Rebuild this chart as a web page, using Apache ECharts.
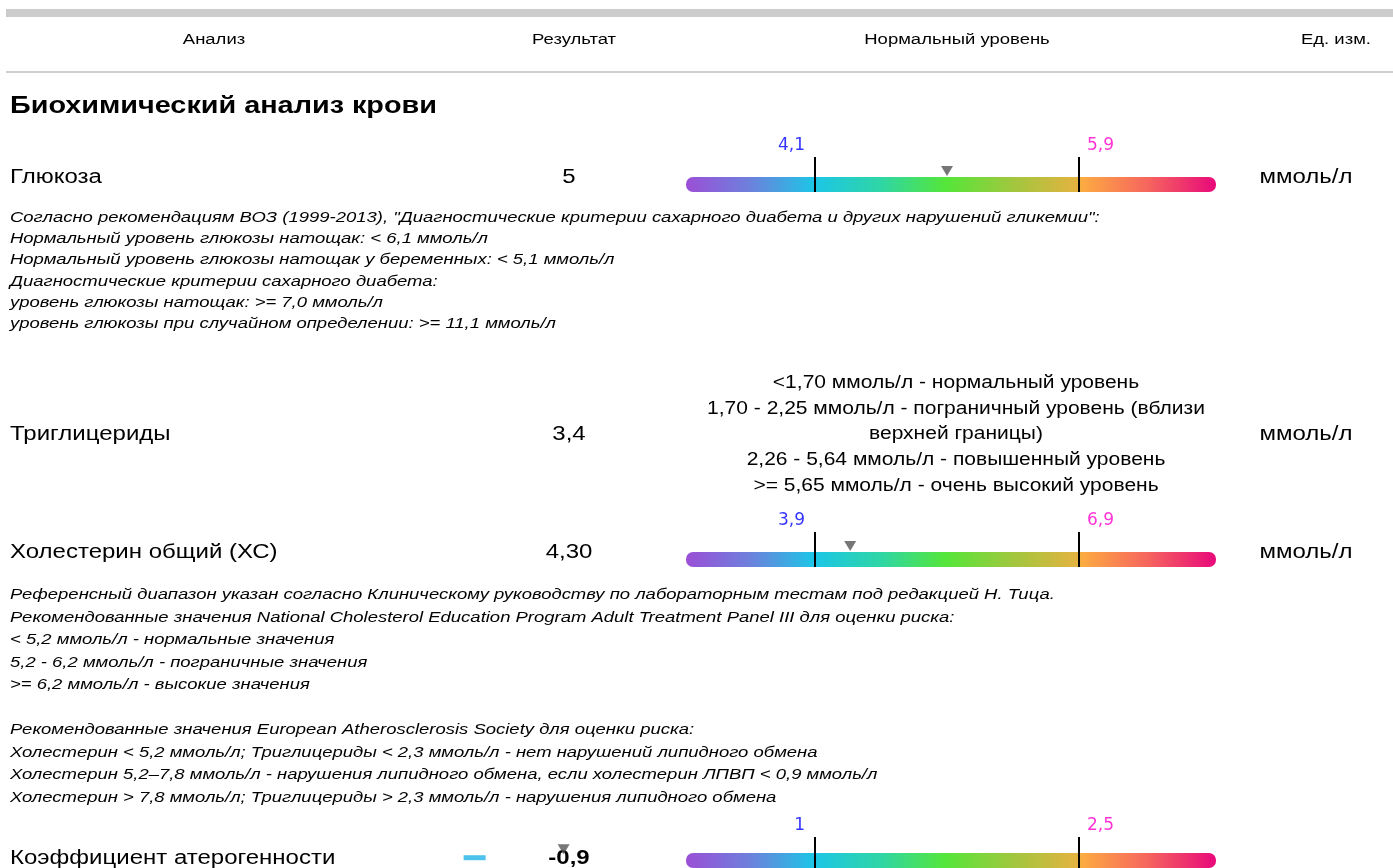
<!DOCTYPE html>
<html><head><meta charset="utf-8">
<script src="https://cdn.jsdelivr.net/npm/echarts@6/dist/echarts.min.js"></script>
<style>html,body{margin:0;padding:0;background:#fff;overflow:hidden}#c{width:1393px;height:868px}</style>
</head><body><div id="c"></div>
<script>
// ---------- DATA ----------
const headers = ['Анализ', 'Результат', 'Нормальный уровень', 'Ед. изм.'];
const sectionTitle = 'Биохимический анализ крови';
const tests = ['Глюкоза', 'Триглицериды', 'Холестерин общий (ХС)', 'Коэффициент атерогенности'];
const results = ['5', '3,4', '4,30', '-0,9'];
const units = ['ммоль/л', 'ммоль/л', 'ммоль/л', ''];
// tests that have a colour scale
const lowBounds = [4.1, 3.9, 1];
const highBounds = [5.9, 6.9, 2.5];
const lowLabels = ['4,1', '3,9', '1'];
const highLabels = ['5,9', '6,9', '2,5'];
const measured = [5, 4.3, -0.9];
const glucoseNotes = [
  'Согласно рекомендациям ВОЗ (1999-2013), "Диагностические критерии сахарного диабета и других нарушений гликемии":',
  'Нормальный уровень глюкозы натощак: < 6,1 ммоль/л',
  'Нормальный уровень глюкозы натощак у беременных: < 5,1 ммоль/л',
  'Диагностические критерии сахарного диабета:',
  'уровень глюкозы натощак: >= 7,0 ммоль/л',
  'уровень глюкозы при случайном определении: >= 11,1 ммоль/л'
];
const trigNorms = [
  '<1,70 ммоль/л - нормальный уровень',
  '1,70 - 2,25 ммоль/л - пограничный уровень (вблизи',
  'верхней границы)',
  '2,26 - 5,64 ммоль/л - повышенный уровень',
  '>= 5,65 ммоль/л - очень высокий уровень'
];
const cholNotes = [
  'Референсный диапазон указан согласно Клиническому руководству по лабораторным тестам под редакцией Н. Тица.',
  'Рекомендованные значения National Cholesterol Education Program Adult Treatment Panel III для оценки риска:',
  '< 5,2 ммоль/л - нормальные значения',
  '5,2 - 6,2 ммоль/л - пограничные значения',
  '>= 6,2 ммоль/л - высокие значения',
  '',
  'Рекомендованные значения European Atherosclerosis Society для оценки риска:',
  'Холестерин < 5,2 ммоль/л; Триглицериды < 2,3 ммоль/л - нет нарушений липидного обмена',
  'Холестерин 5,2–7,8 ммоль/л - нарушения липидного обмена, если холестерин ЛПВП < 0,9 ммоль/л',
  'Холестерин > 7,8 ммоль/л; Триглицериды > 2,3 ммоль/л - нарушения липидного обмена'
];

// ---------- LAYOUT / STYLE ----------
const FF = '"Liberation Sans", Arial, sans-serif';
const SX = 1.2; // horizontal text stretch seen in the reference
const rowY = [177, 434, 552, 858];
const gridTops = [157, 532, 837];
const GRID_H = 35, BAR_H = 15;
const BAR_LEFT = 686, BAR_W = 530;
const LOW_FRAC = 0.2434, SPAN_FRAC = 0.4981;

const grad = new echarts.graphic.LinearGradient(0, 0, 1, 0, [
  { offset: 0, color: '#9b4fd6' },
  { offset: 0.12, color: '#6d80dc' },
  { offset: 0.243, color: '#1cc6e6' },
  { offset: 0.37, color: '#2fd6a4' },
  { offset: 0.49, color: '#55e63a' },
  { offset: 0.62, color: '#a3c63e' },
  { offset: 0.738, color: '#e4b340' },
  { offset: 0.748, color: '#fdaa42' },
  { offset: 0.87, color: '#f6665e' },
  { offset: 1, color: '#e8097a' }
]);

const graphic = [];
function txt(x, y, text, font, align, fill) {
  graphic.push({ type: 'text', x: x, y: y, scaleX: SX, silent: true,
    style: { text: text, font: font, fill: fill || '#000', align: align || 'left', verticalAlign: 'middle' } });
}
graphic.push({ type: 'rect', shape: { x: 6, y: 9, width: 1387, height: 8 }, style: { fill: '#cccccc' }, silent: true });
graphic.push({ type: 'rect', shape: { x: 6, y: 71, width: 1387, height: 2 }, style: { fill: '#d0d0d0' }, silent: true });
const headX = [214, 574, 957, 1336];
headers.forEach((h, i) => txt(headX[i], 40, h, '15.4px ' + FF, 'center'));
txt(10, 106, sectionTitle, 'bold 24px ' + FF, 'left');
tests.forEach((t, i) => {
  txt(10, rowY[i], t, '20px ' + FF, 'left');
  txt(569, rowY[i], results[i], (i === 3 ? 'bold ' : '') + '20px ' + FF, 'center');
  if (units[i]) txt(1306, rowY[i], units[i], '20px ' + FF, 'center');
});
glucoseNotes.forEach((l, i) => txt(10, 218 + i * 21.1, l, 'italic 15.4px ' + FF, 'left'));
trigNorms.forEach((l, i) => txt(956, 383 + i * 25.8, l, '17.5px ' + FF, 'center'));
cholNotes.forEach((l, i) => { if (l) txt(10, 595 + i * 22.5, l, 'italic 15.4px ' + FF, 'left'); });

const labelFont = '"DejaVu Sans", sans-serif';
const grids = [], xAxes = [], yAxes = [], series = [];
lowBounds.forEach((lo, i) => {
  const hi = highBounds[i];
  const total = (hi - lo) / SPAN_FRAC;
  const mn = lo - LOW_FRAC * total, mx = mn + total;
  grids.push({ left: BAR_LEFT, width: BAR_W, top: gridTops[i], height: GRID_H });
  xAxes.push({ type: 'value', gridIndex: i, min: mn, max: mx, show: false });
  yAxes.push({ type: 'value', gridIndex: i, min: 0, max: GRID_H, show: false });
  series.push({
    type: 'custom', xAxisIndex: i, yAxisIndex: i, silent: true, clip: false,
    data: [[mn, mx]],
    renderItem: function (params, api) {
      const p0 = api.coord([api.value(0), 0]);
      const p1 = api.coord([api.value(1), 0]);
      return { type: 'rect', shape: { x: p0[0], y: p0[1] - BAR_H, width: p1[0] - p0[0], height: BAR_H, r: 7 },
        style: { fill: grad } };
    },
    z: 1
  });
  series.push({
    type: 'scatter', xAxisIndex: i, yAxisIndex: i, silent: true, clip: false,
    symbolSize: 0, data: [[lo, GRID_H]],
    label: { show: true, position: 'left', distance: 10, offset: [0, -11], formatter: lowLabels[i],
      color: '#0000ff', fontSize: 17, fontFamily: labelFont },
    markLine: { silent: true, symbol: ['none', 'none'], animation: false,
      lineStyle: { color: '#000', width: 2, type: 'solid' }, label: { show: false },
      data: [{ xAxis: lo }, { xAxis: hi }] },
    z: 3
  });
  series.push({
    type: 'scatter', xAxisIndex: i, yAxisIndex: i, silent: true, clip: false,
    symbolSize: 0, data: [[hi, GRID_H]],
    label: { show: true, position: 'right', distance: 8, offset: [0, -11], formatter: highLabels[i],
      color: '#ff00cc', fontSize: 17, fontFamily: labelFont },
    z: 3
  });
  const outside = measured[i] < mn;
  if (outside) {
    series.push({
      type: 'scatter', xAxisIndex: i, yAxisIndex: i, silent: true, clip: false,
      symbol: 'rect', symbolSize: [22, 5], symbolOffset: [-6, 3],
      itemStyle: { color: '#20b4e6' }, data: [[measured[i], BAR_H]], z: 4
    });
  }
  series.push({
    type: 'scatter', xAxisIndex: i, yAxisIndex: i, silent: true, clip: false,
    symbol: 'triangle', symbolRotate: 180, symbolSize: [12, 10],
    symbolOffset: outside ? [83, -5.5] : [0, -6],
    itemStyle: { color: '#555555' }, data: [[measured[i], BAR_H]], z: 5
  });
});

const chart = echarts.init(document.getElementById('c'), null, { renderer: 'canvas' });
chart.setOption({
  animation: false,
  backgroundColor: '#fff',
  grid: grids, xAxis: xAxes, yAxis: yAxes, series: series,
  graphic: graphic
});
</script></body></html>
